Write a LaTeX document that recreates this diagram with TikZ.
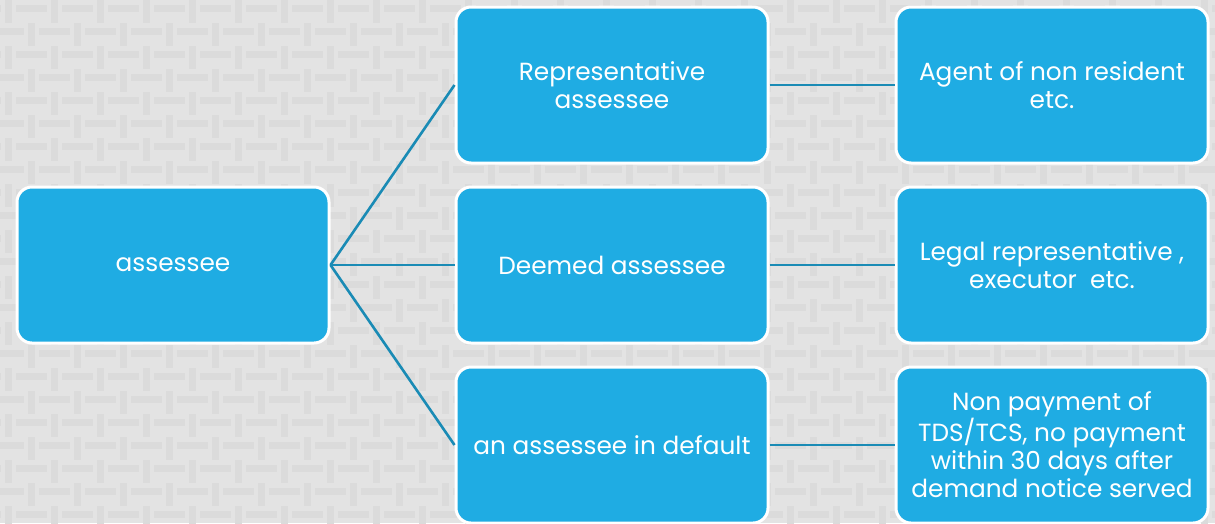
\documentclass[tikz,border=0pt]{standalone}
\usepackage{fontspec}
\setmainfont{Poppins}
\definecolor{bgbase}{HTML}{E3E3E3}
\definecolor{bgbar}{HTML}{DBDBDB}
\definecolor{boxfill}{HTML}{1FACE3}
\definecolor{linkcol}{HTML}{1A8BB5}
\tikzset{
  box/.style={rectangle, rounded corners=15pt, fill=boxfill, draw=white, line width=3pt,
    minimum width=312pt, minimum height=156pt, inner sep=0pt, text=white, align=center,
    font=\fontsize{24.8}{28}\selectfont},
  link/.style={draw=linkcol, line width=2.6pt}
}
\begin{document}
\begin{tikzpicture}[x=1pt,y=-1pt]
\useasboundingbox (0,0) rectangle (1215,523);
\fill[bgbase] (0,0) rectangle (1215,523);
\begin{scope}
\clip (0,0) rectangle (1215,523);
\foreach \r in {0,...,23}{
  \pgfmathsetmacro{\yy}{5+23*\r}
  \pgfmathsetmacro{\hoff}{mod(\r,2)==0 ? 16 : -7}
  \pgfmathsetmacro{\voff}{mod(\r,2)==0 ? 5 : 28}
  \foreach \k in {-1,...,27}{
    \fill[bgbar] (\hoff+46*\k,\yy) rectangle ++(31,7);
    \fill[bgbar] (\voff+46*\k,\yy-5) rectangle ++(7,23);
  }
}
\end{scope}
\node[box] (a) at (173,265) {assessee};
\node[box] (b1) at (612,85) {Representative\\assessee};
\node[box] (b2) at (612,265) {Deemed assessee};
\node[box] (b3) at (612,445) {an assessee in default};
\node[box] (c1) at (1052,85) {Agent of non resident\\etc.};
\node[box] (c2) at (1052,265) {Legal representative ,\\executor\ \ etc.};
\node[box] (c3) at (1052,445) {Non payment of\\TDS/TCS, no payment\\within 30 days after\\demand notice served};
\draw[link] (a.east) -- (b1.west);
\draw[link] (a.east) -- (b2.west);
\draw[link] (a.east) -- (b3.west);
\draw[link] (b1.east) -- (c1.west);
\draw[link] (b2.east) -- (c2.west);
\draw[link] (b3.east) -- (c3.west);
\end{tikzpicture}
\end{document}
